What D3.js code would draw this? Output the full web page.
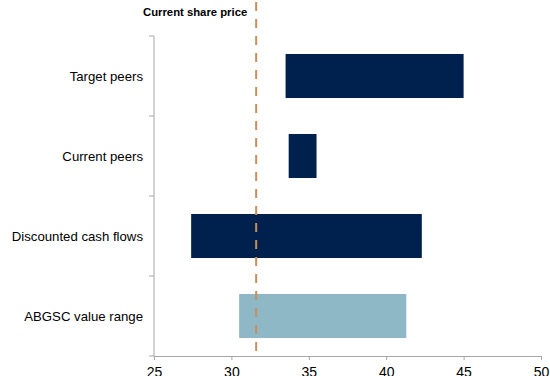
<!DOCTYPE html>
<html>
<head>
<meta charset="utf-8">
<script src="https://cdn.jsdelivr.net/npm/d3@7"></script>
<style>
  html, body { margin: 0; padding: 0; background: #fff; }
  svg { display: block; font-family: "Liberation Sans", Arial, sans-serif; }
</style>
</head>
<body>
<svg id="chart" width="550" height="376"></svg>
<script>
// Valuation ranges per method (share price, low to high)
const categories = ["Target peers", "Current peers", "Discounted cash flows", "ABGSC value range"];
const lowValues  = [33.5, 33.7, 27.4, 30.5];
const highValues = [45.0, 35.5, 42.3, 41.3];
const barColors  = ["#00214d", "#00214d", "#00214d", "#8fb8c6"];
const currentPrice = 31.6;
const priceLabel = "Current share price";
const xTicks = [25, 30, 35, 40, 45, 50];

const svg = d3.select("#chart");
const axisColor = "#a6a6a6";

const x = d3.scaleLinear().domain([25, 50]).range([154, 541]);
const y = d3.scaleBand().domain(categories).range([36, 356])
  .paddingInner(0.45).paddingOuter(0.225);

// Range bars
svg.append("g").selectAll("rect")
  .data(categories)
  .join("rect")
  .attr("x", (d, i) => x(lowValues[i]))
  .attr("y", d => y(d))
  .attr("width", (d, i) => x(highValues[i]) - x(lowValues[i]))
  .attr("height", y.bandwidth())
  .attr("fill", (d, i) => barColors[i]);

// X axis
const xAxis = svg.append("g")
  .attr("transform", `translate(0,${y.range()[1]})`)
  .call(d3.axisBottom(x).tickValues(xTicks).tickSize(4).tickPadding(7).tickSizeOuter(0));
xAxis.select(".domain").attr("stroke", axisColor);
xAxis.selectAll(".tick line").attr("stroke", axisColor);
xAxis.selectAll(".tick text")
  .attr("fill", "#000")
  .style("font-size", "14px")
  .style("font-family", "'Liberation Sans', Arial, sans-serif");

// Y axis: line with ticks at band boundaries
const yAxis = svg.append("g");
const [y0, y1] = y.range();
yAxis.append("line")
  .attr("x1", x.range()[0]).attr("x2", x.range()[0])
  .attr("y1", y0).attr("y2", y1)
  .attr("stroke", axisColor);
const boundaries = d3.range(categories.length + 1).map(i => y0 + i * y.step());
yAxis.selectAll("line.tick")
  .data(boundaries)
  .join("line")
  .attr("class", "tick")
  .attr("x1", x.range()[0] - 5).attr("x2", x.range()[0])
  .attr("y1", d => d).attr("y2", d => d)
  .attr("stroke", axisColor);
yAxis.selectAll("text")
  .data(categories)
  .join("text")
  .attr("x", 143)
  .attr("y", d => y(d) + y.bandwidth() / 2)
  .attr("dy", "0.35em")
  .attr("text-anchor", "end")
  .attr("fill", "#000")
  .style("font-size", "13.2px")
  .text(d => d);

// Current share price marker
svg.append("line")
  .attr("x1", x(currentPrice)).attr("x2", x(currentPrice))
  .attr("y1", 2).attr("y2", 358)
  .attr("stroke", "#c98e5a")
  .attr("stroke-width", 2)
  .attr("stroke-dasharray", "9,8");

svg.append("text")
  .attr("x", 143)
  .attr("y", 16)
  .attr("fill", "#000")
  .style("font-size", "11.3px")
  .style("font-weight", "bold")
  .text(priceLabel);
</script>
</body>
</html>
